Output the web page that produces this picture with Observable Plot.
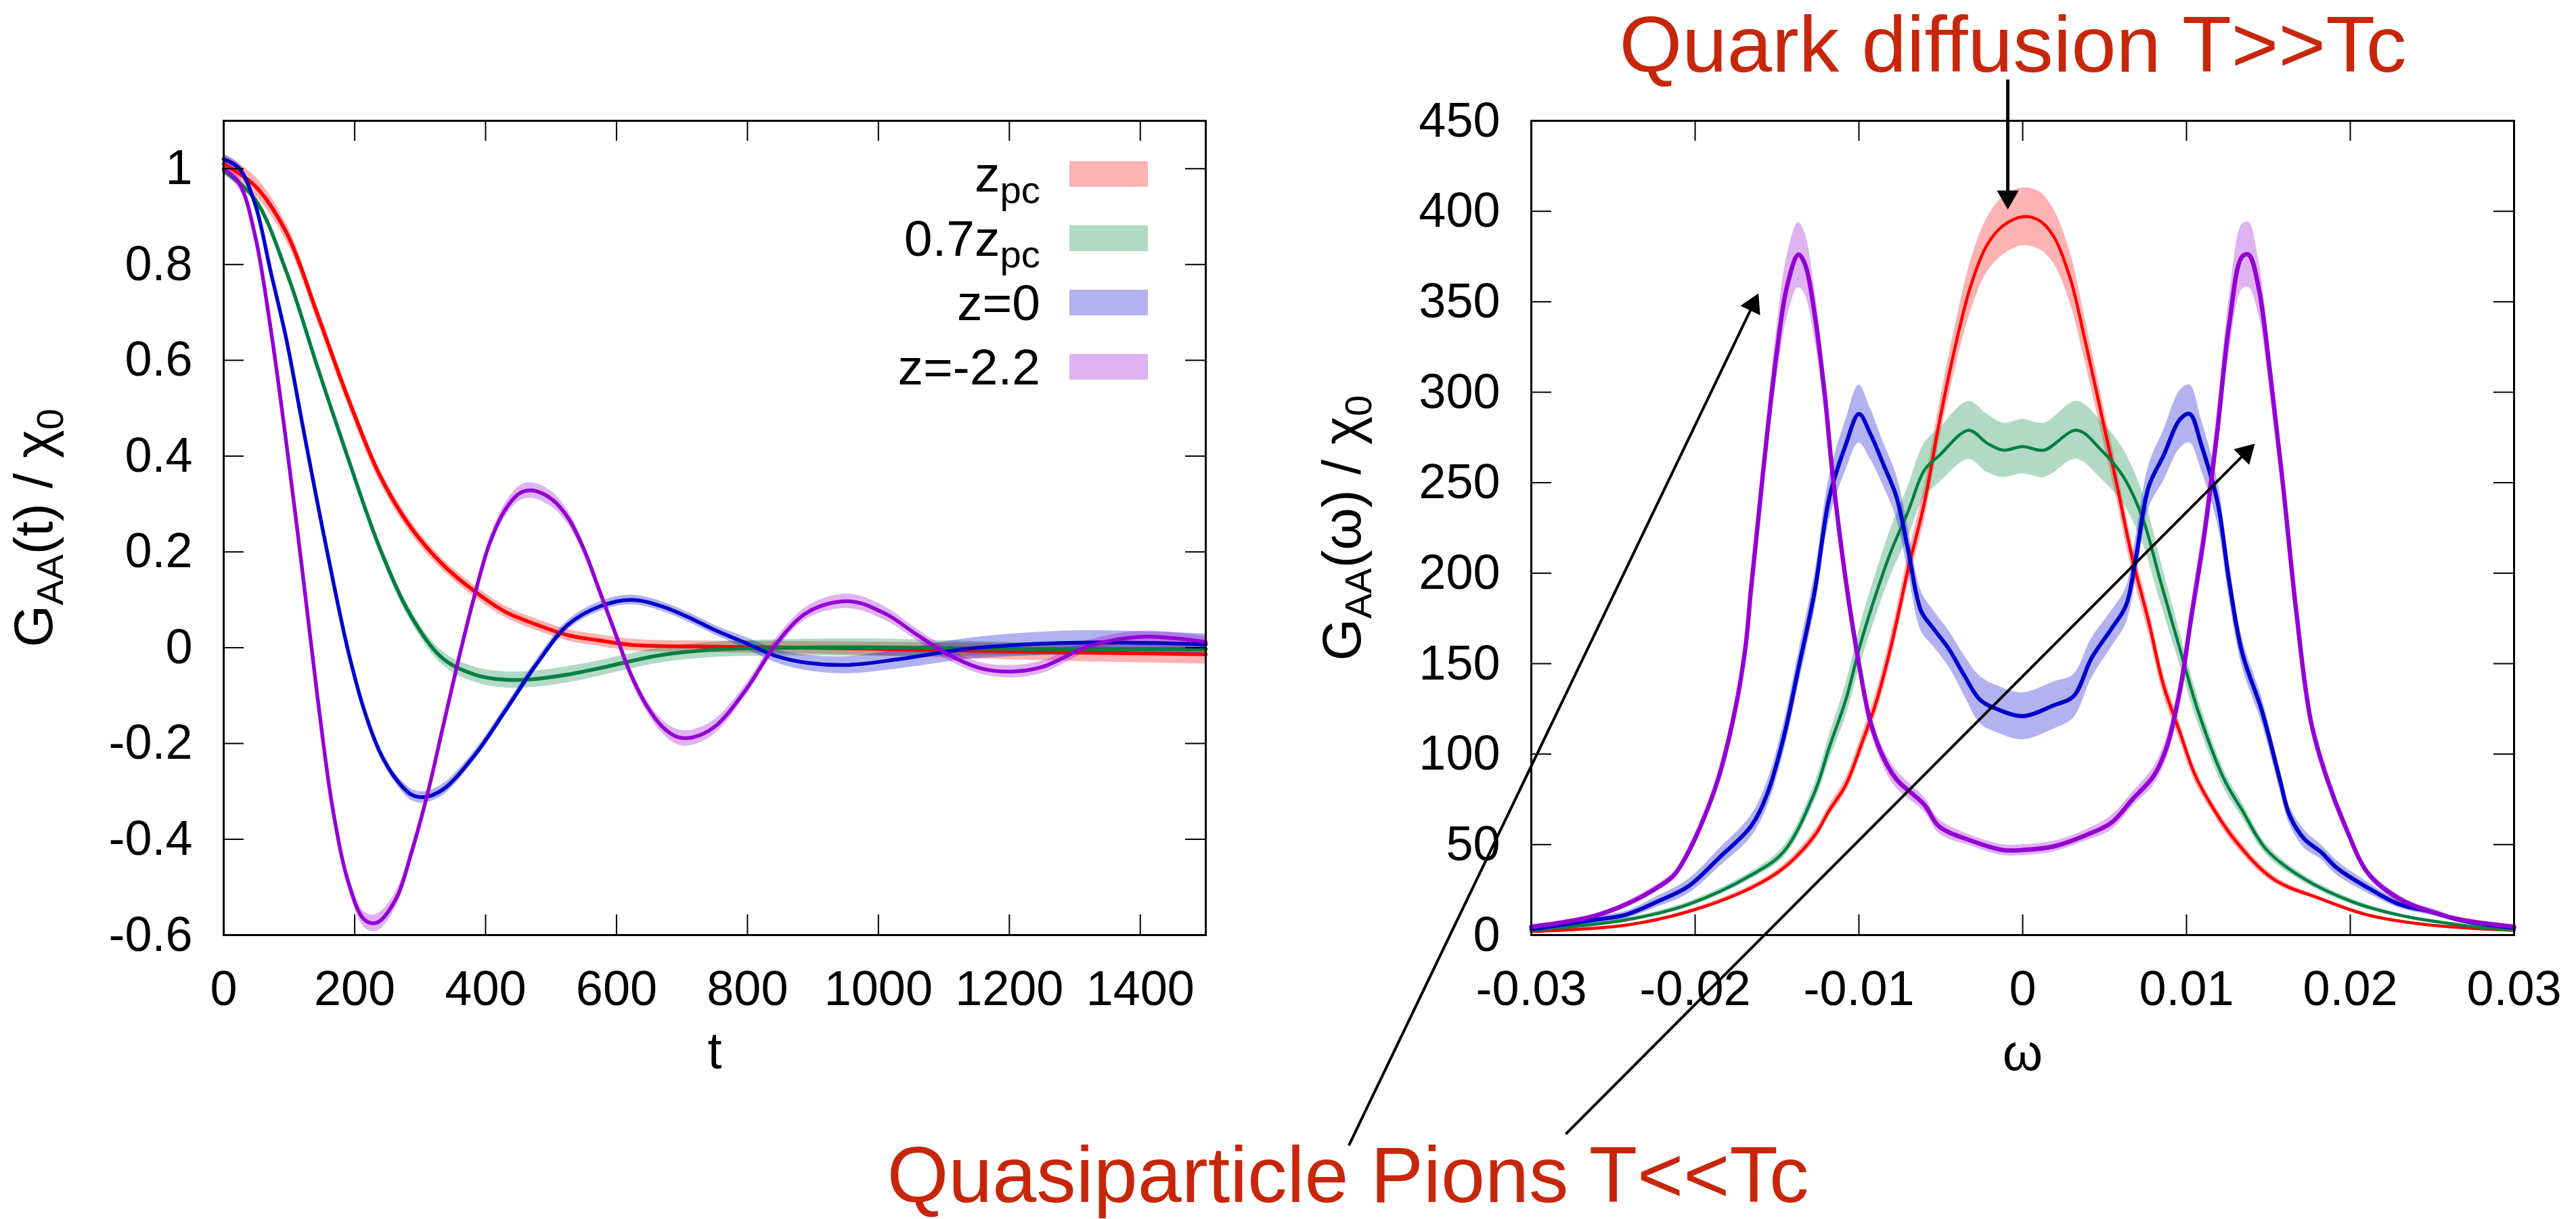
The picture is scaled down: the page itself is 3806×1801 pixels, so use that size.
<!DOCTYPE html>
<html>
<head>
<meta charset="utf-8">
<script src="https://cdn.jsdelivr.net/npm/d3@7"></script>
<script src="https://cdn.jsdelivr.net/npm/@observablehq/plot@0.6"></script>
<style>
  body { margin: 0; background: #fff; }
  #wrap { position: relative; width: 3806px; height: 1801px; font-family: "Liberation Sans", Arial, Helvetica, sans-serif; color: #000; overflow: hidden; }
  #wrap svg { position: absolute; left: 0; top: 0; }
  .ylab { position: absolute; white-space: nowrap; font-size: 80px; line-height: 1; transform: translate(-50%, -50%) rotate(-90deg); }
  .ylab sub { font-size: 0.7em; vertical-align: -0.28em; line-height: 0; }
  .leg sub { font-size: 0.75em; vertical-align: -0.3em; line-height: 0; }
  .leg { position: absolute; left: 0; width: 1696px; height: 95px; display: flex; justify-content: flex-end; align-items: center; font-size: 75px; line-height: 1; white-space: nowrap; }
  .leg .sw { width: 116px; height: 38px; margin-left: 43px; flex: none; }
</style>
</head>
<body>
<div id="wrap"></div>
<script>
// ---------------- data: left panel  G_AA(t)/chi0 vs t ----------------
const tTicks = [0, 200, 400, 600, 800, 1000, 1200, 1400];
const gTicks = [-0.6, -0.4, -0.2, 0, 0.2, 0.4, 0.6, 0.8, 1];

const tRed = [0,48,96,143,191,239,287,335,383,430,478,526,574,622,750,900,1050,1200,1350,1500];
const gRed = [1.01,0.964,0.866,0.697,0.517,0.358,0.249,0.173,0.118,0.075,0.048,0.026,0.015,0.006,0.002,0.0,-0.004,-0.008,-0.011,-0.014];
const eRed = [0.02,0.02,0.018,0.016,0.015,0.014,0.013,0.012,0.012,0.012,0.012,0.012,0.012,0.012,0.012,0.013,0.015,0.017,0.019,0.02];

const tGreen = [0,48,96,143,191,239,287,335,383,430,478,526,574,622,670,750,850,950,1050,1150,1250,1350,1500];
const gGreen = [0.996,0.936,0.784,0.587,0.391,0.206,0.064,-0.023,-0.056,-0.067,-0.065,-0.056,-0.043,-0.028,-0.015,-0.004,0.0,0.001,0.0,-0.002,-0.003,-0.003,-0.003];
const eGreen = [0.005,0.005,0.006,0.007,0.008,0.01,0.012,0.014,0.016,0.017,0.017,0.017,0.016,0.016,0.016,0.016,0.017,0.018,0.017,0.015,0.013,0.012,0.012];

const tBlue = [0,24,48,72,96,120,143,167,191,215,239,263,287,306,335,383,430,478,526,574,622,670,717,750,797,845,893,955,1036,1132,1227,1323,1500];
const gBlue = [1.02,1.0,0.926,0.784,0.642,0.468,0.304,0.14,-0.012,-0.132,-0.219,-0.274,-0.307,-0.312,-0.296,-0.225,-0.132,-0.034,0.048,0.086,0.1,0.086,0.059,0.037,0.01,-0.018,-0.032,-0.036,-0.023,-0.003,0.007,0.011,0.007];
const eBlue = [0.01,0.01,0.01,0.01,0.01,0.01,0.01,0.01,0.01,0.01,0.01,0.01,0.012,0.012,0.012,0.01,0.01,0.01,0.01,0.01,0.01,0.01,0.01,0.01,0.012,0.014,0.016,0.018,0.02,0.022,0.024,0.025,0.022];

const tPurple = [0,24,48,72,96,120,143,167,191,215,234,263,287,311,335,359,383,406,430,454,473,502,526,550,574,598,622,646,670,694,717,750,797,845,893,955,1012,1060,1108,1156,1204,1251,1323,1404,1500];
const gPurple = [1.0,0.969,0.86,0.664,0.424,0.162,-0.1,-0.34,-0.492,-0.568,-0.574,-0.525,-0.427,-0.307,-0.165,-0.023,0.108,0.217,0.288,0.324,0.328,0.309,0.271,0.206,0.119,0.031,-0.056,-0.121,-0.165,-0.187,-0.187,-0.165,-0.089,0.01,0.075,0.097,0.07,0.026,-0.015,-0.043,-0.05,-0.04,0.004,0.023,0.012];
const ePurple = [0.012,0.012,0.012,0.012,0.012,0.012,0.012,0.012,0.014,0.016,0.018,0.016,0.014,0.012,0.012,0.012,0.012,0.012,0.014,0.016,0.016,0.016,0.014,0.012,0.012,0.012,0.012,0.012,0.014,0.016,0.016,0.015,0.012,0.012,0.013,0.015,0.014,0.012,0.012,0.012,0.013,0.013,0.012,0.012,0.012];

// ---------------- data: right panel  G_AA(omega)/chi0 vs omega ----------------
const wTicks = [-0.03, -0.02, -0.01, 0, 0.01, 0.02, 0.03];
const sTicks = [0, 50, 100, 150, 200, 250, 300, 350, 400, 450];

const wRed = [-0.03,-0.0242,-0.0204,-0.0166,-0.0146,-0.0127,-0.0118,-0.0108,-0.0099,-0.0089,-0.0080,-0.0070,-0.0060,-0.0051,-0.0041,-0.0032,-0.0022,-0.0012,0.0,0.0010,0.0019,0.0029,0.0038,0.0048,0.0057,0.0067,0.0077,0.0086,0.0096,0.0105,0.0115,0.0130,0.0153,0.0182,0.0211,0.0249,0.03];
const sRed = [2,5.5,13,26,37,55,69,83,104,130,161,202,239,283,326,358,381,392,397,395,386,363,329,288,251,208,173,138,112,89,72,52,31,20,11,5.5,2.6];
const esRed = [0.3,0.5,1,1.5,2,3,3,4,5,6,7,8,9,10,12,14,15,16,16,16,15,14,12,10,9,8,7,6,5,4,3,3,2,1,1,0.5,0.3];

const wGreen = [-0.03,-0.0242,-0.0204,-0.0166,-0.0146,-0.0127,-0.0118,-0.0108,-0.0099,-0.0089,-0.0080,-0.0070,-0.0060,-0.0051,-0.0033,-0.0022,-0.0012,0.0,0.0013,0.0033,0.0048,0.0061,0.0073,0.0084,0.0096,0.0107,0.0123,0.0134,0.0149,0.0172,0.0201,0.0230,0.0268,0.03];
const sGreen = [2.6,8.4,17,33,46,79,104,130,161,190,213,234,257,265,279,272,268,270,268,279,268,254,231,196,158,124,86,69,47,31,18.5,11,5.5,2.6];
const esGreen = [0.5,1,1.5,2,3,5,7,9,11,12,13,14,15,15,16,16,15,15,15,16,16,15,14,12,9,7,5,4,3,2,1.5,1,0.5,0.5];

const wBlue = [-0.03,-0.0261,-0.0242,-0.0223,-0.0204,-0.0185,-0.0166,-0.0156,-0.0146,-0.0137,-0.0127,-0.0118,-0.0108,-0.0100,-0.0093,-0.0085,-0.0077,-0.0070,-0.0062,-0.0055,-0.0045,-0.0036,-0.0026,-0.0016,0.0,0.0019,0.0031,0.0042,0.0054,0.0063,0.0069,0.0077,0.0086,0.0096,0.0102,0.0109,0.0119,0.0126,0.0134,0.0146,0.0157,0.0163,0.0172,0.0182,0.0192,0.0211,0.0230,0.0249,0.0268,0.03];
const sBlue = [3.2,8.4,11.3,18.5,27,43,60,78,109,147,190,242,271,288,277,260,242,213,179,170,158,144,130,125,121,127,132,153,169,182,208,248,265,285,288,271,239,196,156,124,86,66,53,46,37,26,17,13,8,4];
const esBlue = [1,2,2,3,4,5,6,7,8,9,10,12,14,16,14,12,12,12,11,10,10,11,13,13,13,13,12,11,10,10,12,12,14,16,16,14,12,10,8,7,6,5,5,4,4,3,2,2,1,1];

const wPurple = [-0.03,-0.0281,-0.0261,-0.0242,-0.0223,-0.0213,-0.0204,-0.0194,-0.0185,-0.0175,-0.0169,-0.0166,-0.0162,-0.0156,-0.0150,-0.0144,-0.0137,-0.0133,-0.0127,-0.0121,-0.0116,-0.0108,-0.0100,-0.0093,-0.0085,-0.0077,-0.0060,-0.0051,-0.0031,-0.0012,0.0,0.0019,0.0038,0.0054,0.0067,0.0080,0.0088,0.0096,0.0103,0.0111,0.0119,0.0126,0.0134,0.0138,0.0144,0.0151,0.0159,0.0167,0.0176,0.0186,0.0197,0.0211,0.0230,0.0249,0.0268,0.03];
const sPurple = [4.6,7,10.7,17,26.3,33,46,66,89,127,161,190,225,277,323,358,376,371,343,300,254,196,150,118,98,86,72,60,52,47,47,49,55,62,75,88,104,135,176,222,280,337,375,376,358,311,248,179,118,86,60,34,20,13,8.4,4.6];
const esPurple = [1,1,1,1.5,2,2,3,3,4,5,6,7,8,10,14,17,18,17,14,10,8,7,6,5,5,5,4,4,3,3,3,3,3,4,4,5,6,7,8,10,12,15,18,18,15,12,9,7,5,4,3,2,2,1,1,1];

// ---------------- series styling / legend ----------------
const seriesLabels = ["z<sub>pc</sub>", "0.7z<sub>pc</sub>", "z=0", "z=-2.2"];
const lineColors = ["#ff0000", "#008040", "#0000cc", "#9400d3"];

// ---------------- annotations (right panel data coordinates) ----------------
const annoText = ["Quark diffusion T>>Tc", "Quasiparticle Pions T<<Tc"];
const annoW = [-0.0006, -0.0412];
const annoS = [477, -147.4];
const annoWidthPx = [1163, 1362];
const arrowFromW = [-0.00091, -0.04114, -0.0279];
const arrowFromS = [472.8, -116.3, -110];
const arrowToW = [-0.00091, -0.01613, 0.014175];
const arrowToS = [401, 354.6, 271.6];
const arrowWidth = [5, 4, 4];

// ---------------- layout ----------------
const W = 3806, H = 1801;
const marginTop = 178, marginBottom = 420;
const L = {ml: 330, mr: 2025};
const R = {ml: 2262, mr: 92};
const fh = H - marginTop - marginBottom;
const tickLen = 30;

const rows = (xs, ys, es) => xs.map((x, i) => ({x, y: ys[i], lo: ys[i] - es[i], hi: ys[i] + es[i]}));

function frameMarks(xt, yt, fw) {
  return [
    Plot.tickX(xt, {x: d => d, insetTop: fh - tickLen, stroke: "#000", strokeWidth: 2}),
    Plot.tickX(xt, {x: d => d, insetBottom: fh - tickLen, stroke: "#000", strokeWidth: 2}),
    Plot.tickY(yt, {y: d => d, insetRight: fw - tickLen, stroke: "#000", strokeWidth: 2}),
    Plot.tickY(yt, {y: d => d, insetLeft: fw - tickLen, stroke: "#000", strokeWidth: 2}),
    Plot.frame({stroke: "#000", strokeWidth: 3}),
    Plot.axisX({ticks: xt, tickSize: 0, tickPadding: 52, fontSize: 72, tickFormat: d => String(d), label: null}),
    Plot.axisY({ticks: yt, tickSize: 0, tickPadding: 46, fontSize: 72, tickFormat: d => String(d), label: null})
  ];
}

const style = {background: "transparent", fontFamily: "'Liberation Sans', Arial, Helvetica, sans-serif", overflow: "visible"};

// left
const leftSeries = [rows(tRed, gRed, eRed), rows(tGreen, gGreen, eGreen), rows(tBlue, gBlue, eBlue), rows(tPurple, gPurple, ePurple)];
const leftFw = W - L.ml - L.mr;
const left = Plot.plot({
  width: W, height: H, marginLeft: L.ml, marginRight: L.mr, marginTop, marginBottom,
  x: {domain: [0, 1500]}, y: {domain: [-0.6, 1.1]},
  style,
  marks: [
    ...leftSeries.map((d, i) => Plot.areaY(d, {x: "x", y1: "lo", y2: "hi", fill: lineColors[i], fillOpacity: 0.3, curve: "catmull-rom"})),
    ...leftSeries.map((d, i) => Plot.line(d, {x: "x", y: "y", stroke: lineColors[i], strokeWidth: 5.5, curve: "catmull-rom"})),
    ...frameMarks(tTicks, gTicks, leftFw),
    Plot.text(["t"], {text: d => d, frameAnchor: "bottom", dy: 196, fontSize: 76})
  ]
});

// right
const rightSeries = [rows(wRed, sRed, esRed), rows(wGreen, sGreen, esGreen), rows(wBlue, sBlue, esBlue), rows(wPurple, sPurple, esPurple)];
const rightWidths = [4.5, 4.5, 6, 6.5];
const rightFw = W - R.ml - R.mr;
const kx = rightFw / 0.06, ky = fh / 450;
const headLen = 28;
const arrows = arrowFromW.map((_, i) => {
  const dxp = (arrowToW[i] - arrowFromW[i]) * kx;
  const dyp = -(arrowToS[i] - arrowFromS[i]) * ky;
  const len = Math.hypot(dxp, dyp);
  const ux = dxp / len, uy = dyp / len;
  return {
    x1: arrowFromW[i], y1: arrowFromS[i],
    x2: arrowToW[i] - ux * headLen * 0.9 / kx, y2: arrowToS[i] + uy * headLen * 0.9 / ky,
    cx: arrowToW[i] - ux * headLen * 2 / 3 / kx, cy: arrowToS[i] + uy * headLen * 2 / 3 / ky,
    rot: Math.atan2(ux, -uy) * 180 / Math.PI, sw: arrowWidth[i]
  };
});
const annos = annoText.map((t, i) => ({t, x: annoW[i], y: annoS[i]}));
const right = Plot.plot({
  width: W, height: H, marginLeft: R.ml, marginRight: R.mr, marginTop, marginBottom,
  x: {domain: [-0.03, 0.03]}, y: {domain: [0, 450]},
  style,
  marks: [
    ...rightSeries.map((d, i) => Plot.areaY(d, {x: "x", y1: "lo", y2: "hi", fill: lineColors[i], fillOpacity: 0.3, curve: "catmull-rom"})),
    ...rightSeries.map((d, i) => Plot.line(d, {x: "x", y: "y", stroke: lineColors[i], strokeWidth: rightWidths[i], curve: "catmull-rom"})),
    ...arrows.map(a => Plot.link([a], {x1: "x1", y1: "y1", x2: "x2", y2: "y2", stroke: "#000", strokeWidth: a.sw})),
    Plot.dot(arrows, {x: "cx", y: "cy", symbol: "triangle", r: 12, rotate: "rot", fill: "#000", stroke: "none"}),
    ...frameMarks(wTicks, sTicks, rightFw),
    Plot.text(["ω"], {text: d => d, frameAnchor: "bottom", dy: 199, fontSize: 76}),
    Plot.text(annos, {x: "x", y: "y", text: "t", fill: "#c8260a", fontSize: 116, fontFamily: "'Liberation Sans', Arial, sans-serif", textAnchor: "middle", lineAnchor: "bottom"})
  ]
});
right.querySelectorAll("text").forEach(t => {
  const i = annoText.indexOf(t.textContent);
  if (i >= 0) { t.setAttribute("textLength", annoWidthPx[i]); t.setAttribute("lengthAdjust", "spacingAndGlyphs"); }
});

const wrap = document.getElementById("wrap");
wrap.appendChild(left);
wrap.appendChild(right);

// y-axis titles
[["G<sub>AA</sub>(t) / χ<sub>0</sub>", 50], ["G<sub>AA</sub>(ω) / χ<sub>0</sub>", 1983]].forEach(([html, cx]) => {
  const d = document.createElement("div");
  d.className = "ylab";
  d.innerHTML = html;
  d.style.left = cx + "px";
  d.style.top = "780px";
  wrap.appendChild(d);
});

// legend
const legendRowCenters = [257, 352, 447, 542];
seriesLabels.forEach((lab, i) => {
  const row = document.createElement("div");
  row.className = "leg";
  row.style.top = (legendRowCenters[i] - 47.5) + "px";
  row.innerHTML = `<span>${lab}</span><div class="sw" style="background:${lineColors[i]};opacity:0.3"></div>`;
  wrap.appendChild(row);
});
</script>
</body>
</html>
